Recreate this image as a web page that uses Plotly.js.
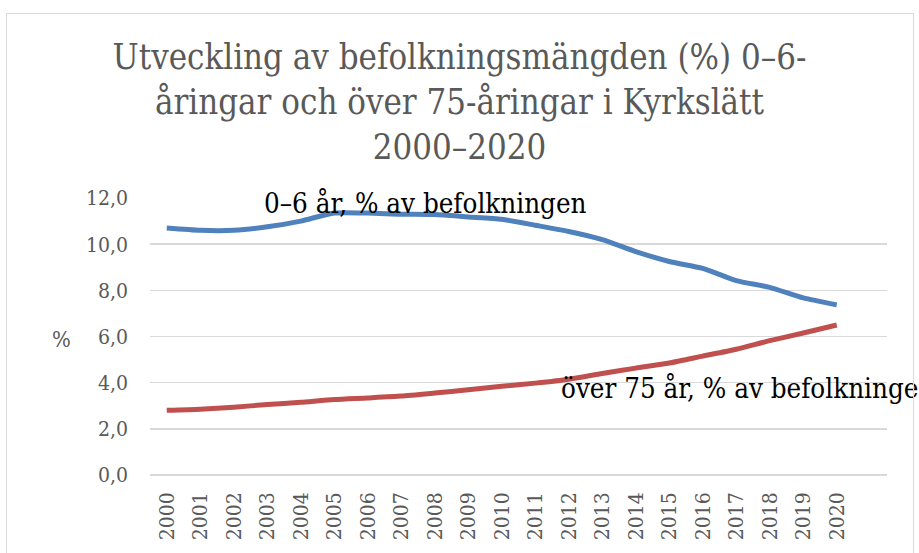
<!DOCTYPE html>
<html>
<head>
<meta charset="utf-8">
<script src="https://cdn.plot.ly/plotly-3.0.1.min.js"></script>
<style>
html,body{margin:0;padding:0;background:#fff;overflow:hidden;}
#chart{width:919px;height:553px;}
#frame{position:absolute;left:6px;top:13px;width:906px;height:560px;border:1px solid #d9d9d9;pointer-events:none;}
</style>
</head>
<body>
<div id="chart"></div>
<div id="frame"></div>
<script>
const years = ['2000','2001','2002','2003','2004','2005','2006','2007','2008','2009','2010','2011','2012','2013','2014','2015','2016','2017','2018','2019','2020'];
const children06 = [10.7,10.6,10.6,10.75,11.0,11.35,11.35,11.3,11.28,11.18,11.08,10.82,10.55,10.2,9.68,9.25,8.95,8.42,8.13,7.67,7.37];
const over75 = [2.8,2.85,2.94,3.05,3.15,3.27,3.34,3.42,3.55,3.69,3.84,3.98,4.15,4.4,4.63,4.85,5.15,5.45,5.82,6.15,6.5];
const yTicks = [0,2,4,6,8,10,12];
const label06 = '0–6 år, % av befolkningen';
const label75 = 'över 75 år, % av befolkninge';

const serif = 'DejaVu Serif Condensed, DejaVu Serif, serif';

const traces = [
  {x: years, y: children06, type:'scatter', mode:'lines', line:{color:'#4f81bd', width:5, shape:'spline', smoothing:0.6}, hoverinfo:'skip'},
  {x: years, y: over75, type:'scatter', mode:'lines', line:{color:'#c0504d', width:5, shape:'spline', smoothing:0.6}, hoverinfo:'skip'}
];

const layout = {
  width:919, height:553,
  margin:{l:150, r:32, t:198, b:78},
  paper_bgcolor:'#ffffff', plot_bgcolor:'#ffffff',
  separators:', ',
  showlegend:false,
  title:{
    text:'Utveckling av befolkningsmängden (%) 0–6-<br>åringar och över 75-åringar i Kyrkslätt<br>2000–2020',
    font:{family:serif, size:34.5, color:'#595959'},
    x:0.5, xref:'container', xanchor:'center',
    y:1-69/553, yref:'container', yanchor:'top'
  },
  xaxis:{
    type:'category', categoryorder:'array', categoryarray:years,
    range:[-0.5, 21.5],
    tickangle:-90,
    tickfont:{family:serif, size:21, color:'#595959'},
    ticklabelstandoff:12,
    showgrid:false, zeroline:false, showline:false, ticks:'',
    fixedrange:true
  },
  yaxis:{
    range:[0,12],
    tickvals:yTicks,
    tickformat:'.1f',
    tickfont:{family:serif, size:21, color:'#595959'},
    gridcolor:'#d9d9d9', gridwidth:1.5,
    zeroline:true, zerolinecolor:'#d9d9d9', zerolinewidth:1.5,
    showline:false, ticks:'',
    ticklabelstandoff:21,
    fixedrange:true
  },
  annotations:[
    {text:'%', xref:'paper', yref:'paper', x:(61-150)/737, y:(475-339)/277, xanchor:'center', yanchor:'middle', showarrow:false, font:{family:serif, size:22, color:'#595959'}},
    {text:label06, xref:'paper', yref:'paper', x:(262-150)/737, y:(475-203)/277, xanchor:'left', yanchor:'middle', showarrow:false, font:{family:serif, size:27.5, color:'#000000'}},
    {text:label75, xref:'paper', yref:'paper', x:(559-150)/737, y:(475-388)/277, xanchor:'left', yanchor:'middle', showarrow:false, font:{family:serif, size:27.5, color:'#000000'}}
  ]
};

Plotly.newPlot('chart', traces, layout, {staticPlot:true, displayModeBar:false});
</script>
</body>
</html>
